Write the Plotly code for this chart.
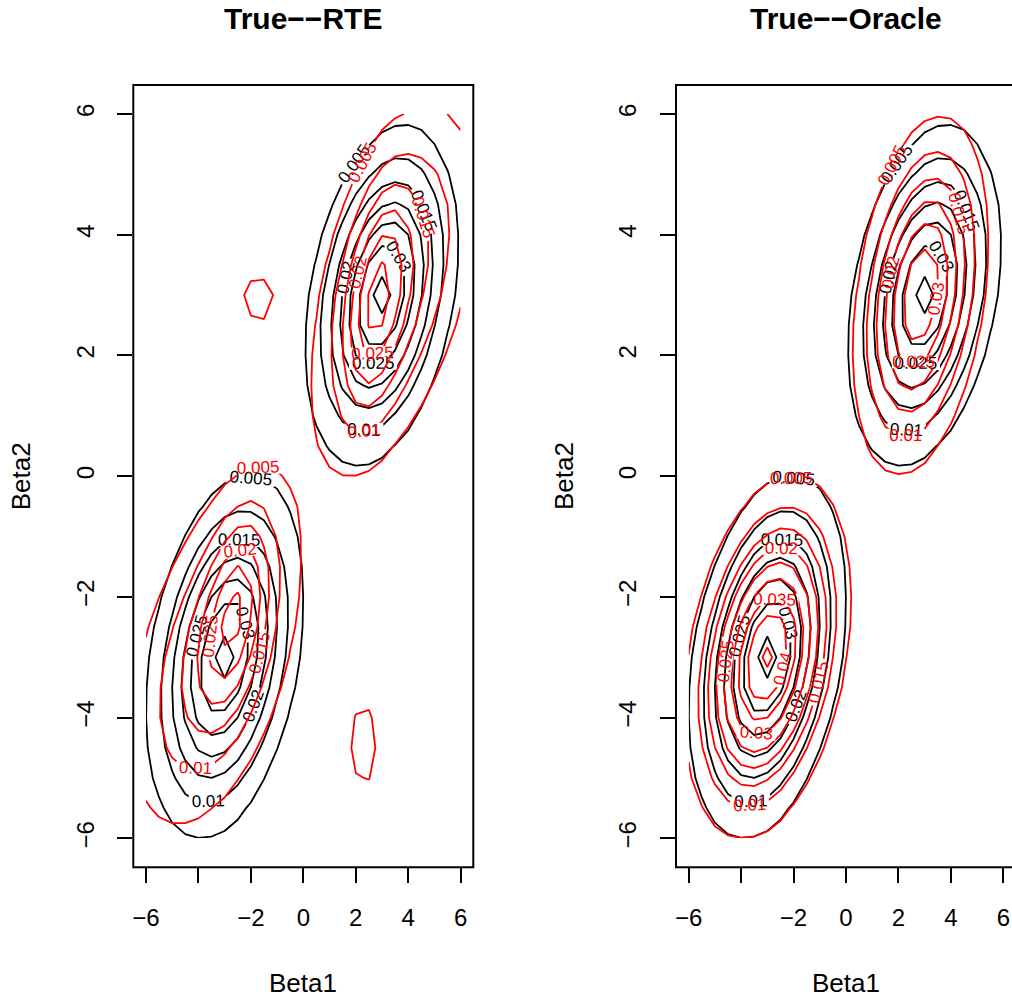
import numpy as np
import plotly.graph_objects as go

# ---------------- data ----------------
beta1 = np.arange(-6, 6.001, 0.5)      # grid along Beta1
beta2 = np.arange(-6, 6.001, 0.5)      # grid along Beta2
levels = [0.005, 0.045, 0.005]         # start, end, step of contour levels

# bivariate bumps: height, centre (x, y), spread (x, y), correlation
true_amp = [0.0365, 0.0365]
true_cx = [3.0, -3.0]
true_cy = [3.0, -3.0]
true_sx = [1.45, 1.5]
true_sy = [1.4, 1.5]
true_rho = [0.3, 0.3]

rte_amp = [0.018, 0.016, 0.017, 0.017, 0.0066, 0.0072]
rte_cx = [3.5, 2.75, -3.4, -2.6, -1.75, 2.3]
rte_cy = [3.2, 2.9, -3.0, -2.2, 2.95, -4.45]
rte_sx = [1.9, 0.8, 2.0, 0.85, 0.7, 0.55]
rte_sy = [1.8, 1.2, 1.75, 1.05, 0.5, 0.75]
rte_rho = [0.45, 0.4, 0.45, 0.4, 0.0, 0.0]

oracle_amp = [0.0345, 0.046]
oracle_cx = [2.85, -3.0]
oracle_cy = [3.0, -3.0]
oracle_sx = [1.3, 1.5]
oracle_sy = [1.5, 1.42]
oracle_rho = [0.3, 0.3]

xtick_vals = [-6, -4, -2, 0, 2, 4, 6]
xtick_text = ["\u22126", "", "\u22122", "0", "2", "4", "6"]
ytick_vals = [-6, -4, -2, 0, 2, 4, 6]
ytick_text = ["\u22126", "\u22124", "\u22122", "0", "2", "4", "6"]
titles = ["True\u2212\u2212RTE", "True\u2212\u2212Oracle"]


def surface(amp, cx, cy, sx, sy, rho):
    X, Y = np.meshgrid(beta1, beta2)
    Z = np.zeros_like(X)
    for a, mx, my, ax, ay, r in zip(amp, cx, cy, sx, sy, rho):
        dx = (X - mx) / ax
        dy = (Y - my) / ay
        q = (dx * dx - 2 * r * dx * dy + dy * dy) / (1 - r * r)
        Z += a * np.exp(-0.5 * q)
    return Z


z_true = surface(true_amp, true_cx, true_cy, true_sx, true_sy, true_rho)
z_rte = surface(rte_amp, rte_cx, rte_cy, rte_sx, rte_sy, rte_rho)
z_oracle = surface(oracle_amp, oracle_cx, oracle_cy, oracle_sx, oracle_sy, oracle_rho)

FONT = "Liberation Sans, Arial, Helvetica, sans-serif"


def contour(z, color, xa, ya):
    return go.Contour(
        x=beta1, y=beta2, z=z, xaxis=xa, yaxis=ya,
        showscale=False, hoverinfo="skip",
        contours=dict(start=levels[0], end=levels[1], size=levels[2],
                      coloring="none", showlabels=True,
                      labelfont=dict(size=17, color=color, family=FONT)),
        contours_labelformat=".3~f",
        line=dict(color=color, width=1.8, smoothing=0),
    )


fig = go.Figure()
fig.add_trace(contour(z_true, "black", "x", "y"))
fig.add_trace(contour(z_rte, "red", "x", "y"))
fig.add_trace(contour(z_true, "black", "x2", "y2"))
fig.add_trace(contour(z_oracle, "red", "x2", "y2"))

W, H = 1012, 1001
L1, R1 = 133.3, 473.3
L2, R2 = 676.0, 1016.0
TOP, BOT = 85.0, 867.3
ppu = (R1 - L1) / 12.96

ax_common = dict(
    showgrid=False, zeroline=False, showline=False,
    ticks="outside", ticklen=15, tickwidth=2, tickcolor="black",
    tickfont=dict(size=24, family=FONT, color="black"),
)
ydom = [(H - BOT) / H, (H - TOP) / H]
fig.update_layout(
    width=W, height=H, margin=dict(l=0, r=0, t=0, b=0),
    paper_bgcolor="white", plot_bgcolor="white", showlegend=False,
    xaxis=dict(domain=[L1 / W, R1 / W], range=[-6.48, 6.48], anchor="y",
               tickvals=xtick_vals, ticktext=xtick_text, ticklabelstandoff=14, **ax_common),
    yaxis=dict(domain=ydom, range=[-6.48, 6.48], anchor="x",
               tickvals=ytick_vals, ticktext=ytick_text, tickangle=-90,
               ticklabelstandoff=14, **ax_common),
    xaxis2=dict(domain=[L2 / W, 1.0], range=[-6.48, -6.48 + (W - L2) / ppu], anchor="y2",
                tickvals=xtick_vals, ticktext=xtick_text, ticklabelstandoff=14, **ax_common),
    yaxis2=dict(domain=ydom, range=[-6.48, 6.48], anchor="x2",
                tickvals=ytick_vals, ticktext=ytick_text, tickangle=-90,
                ticklabelstandoff=14, **ax_common),
)

for (l, r) in [(L1, R1), (L2, R2)]:
    fig.add_shape(type="rect", xref="paper", yref="paper",
                  x0=l / W, x1=r / W, y0=(H - BOT) / H, y1=(H - TOP) / H,
                  line=dict(color="black", width=2), layer="above")

ann = []
for (l, r), t in zip([(L1, R1), (L2, R2)], titles):
    cx = (l + r) / 2 / W
    ann.append(dict(text="<b>" + t + "</b>", x=cx, y=1 - 18 / H, xref="paper", yref="paper",
                    showarrow=False, xanchor="center", yanchor="middle",
                    font=dict(size=30, family=FONT, color="black")))
    ann.append(dict(text="Beta1", x=cx, y=1 - 983 / H, xref="paper", yref="paper",
                    showarrow=False, xanchor="center", yanchor="middle",
                    font=dict(size=26, family=FONT, color="black")))
    ann.append(dict(text="Beta2", x=(l - 112) / W, y=1 - 476 / H, xref="paper", yref="paper",
                    showarrow=False, xanchor="center", yanchor="middle", textangle=-90,
                    font=dict(size=26, family=FONT, color="black")))
fig.update_layout(annotations=ann)

fig.write_html("out.html")
